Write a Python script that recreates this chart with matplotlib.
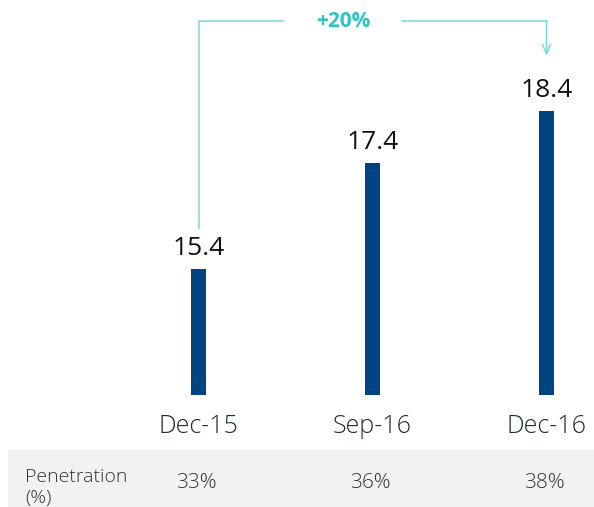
import matplotlib.pyplot as plt
from matplotlib.patches import Rectangle
from matplotlib.transforms import blended_transform_factory

plt.rcParams['font.family'] = ['Open Sans', 'DejaVu Sans']

# data
periods = ["Dec-15", "Sep-16", "Dec-16"]
values = [15.4, 17.4, 18.4]
penetration = ["33%", "36%", "38%"]
growth_label = "+20%"
row_label = "Penetration\n(%)"

bar_color = "#004481"
teal = "#2ec4c4"
teal_line = "#7ad9d9"

fig = plt.figure(figsize=(5.94, 5.07), dpi=100)
ax = fig.add_axes([0, 0.2209, 1, 0.7791])

x = list(range(len(values)))
ax.bar(x, values, width=0.086, color=bar_color)
ax.set_xlim(-1.141, 2.273)
ax.set_ylim(13, 20.5)
ax.axis("off")

# value labels above bars
for xi, v in zip(x, values):
    ax.annotate(f"{v:.1f}", (xi, v), xytext=(0, 10), textcoords="offset points",
                ha="center", va="baseline", fontsize=19, color="#111111")

# growth bracket
top_y = 20.1
text_x = 0.83
gap = 0.34
ax.plot([x[0], x[0], text_x - gap], [values[0] + 0.76, top_y, top_y],
        color=teal_line, lw=1.1, solid_capstyle="butt")
ax.plot([text_x + gap, x[-1]], [top_y, top_y], color=teal_line, lw=1.1)
ax.annotate("", xy=(x[-1], values[-1] + 1.04), xytext=(x[-1], top_y),
            arrowprops=dict(arrowstyle="->,head_length=0.7,head_width=0.3",
                            color=teal_line, lw=1.1, shrinkA=0, shrinkB=0))
ax.text(text_x, top_y, growth_label, ha="center", va="center",
        fontsize=15, fontweight="bold", color=teal)

# grey band with penetration row
fig.patches.append(Rectangle((8 / 594, 0), 1, 0.1124, transform=fig.transFigure,
                             facecolor="#f2f2f2", edgecolor="none", zorder=-1))
trans = blended_transform_factory(ax.transData, fig.transFigure)
for xi, lab, pen in zip(x, periods, penetration):
    ax.text(xi, 0.158, lab, transform=trans, ha="center", va="center",
            fontsize=18, fontweight="light", color="#1f2a3c", clip_on=False)
    ax.text(xi - 0.01, 0.048, pen, transform=trans, ha="center", va="center",
            fontsize=15, fontweight="light", color="#333333", clip_on=False)
fig.text(25 / 594, 0.038, row_label, ha="left", va="center", fontsize=14,
         fontweight="light", color="#333333", linespacing=1.25)

fig.savefig("out.png", dpi=100)
